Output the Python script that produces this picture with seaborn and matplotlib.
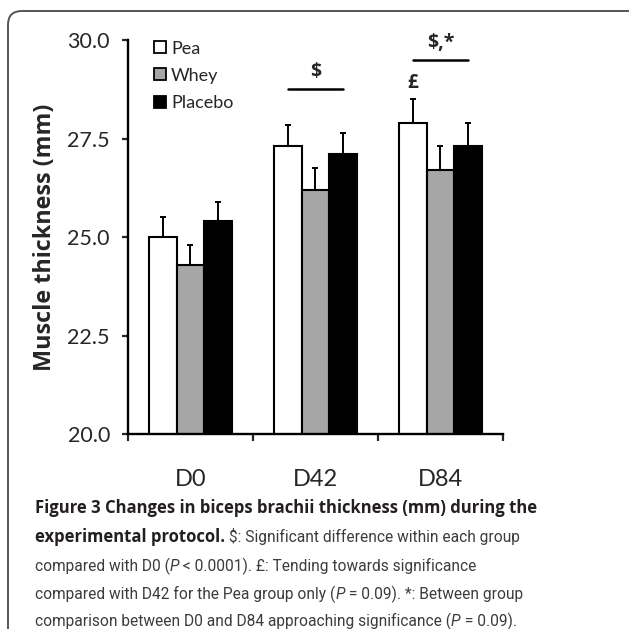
import numpy as np
import pandas as pd
import matplotlib
matplotlib.use("Agg")
import matplotlib.pyplot as plt
import seaborn as sns
from matplotlib.patches import FancyBboxPatch, Patch

days = ['D0', 'D42', 'D84']
groups = ['Pea', 'Whey', 'Placebo']
pea_mean = [25.0, 27.3, 27.9]
pea_sem = [0.5, 0.55, 0.6]
whey_mean = [24.3, 26.2, 26.7]
whey_sem = [0.5, 0.55, 0.6]
placebo_mean = [25.4, 27.1, 27.3]
placebo_sem = [0.5, 0.55, 0.6]
y_ticks = [20.0, 22.5, 25.0, 27.5, 30.0]

colors = {'Pea': 'white', 'Whey': '#a6a6a6', 'Placebo': 'black'}

df = pd.DataFrame({
    'Day': days * 3,
    'Group': ['Pea'] * 3 + ['Whey'] * 3 + ['Placebo'] * 3,
    'Thickness': pea_mean + whey_mean + placebo_mean,
    'SEM': pea_sem + whey_sem + placebo_sem,
})

sns.set_theme(style='white')
plt.rcParams['font.family'] = ['Lato', 'DejaVu Sans']
bold_font = ['Open Sans', 'DejaVu Sans']
body_font = ['Roboto', 'DejaVu Sans']

fig = plt.figure(figsize=(6.29, 6.29), dpi=100)
ax = fig.add_axes([0.2035, 0.31, 0.596, 0.6264])

sns.barplot(data=df, x='Day', y='Thickness', hue='Group', order=days, hue_order=groups,
            palette=colors, width=0.66, edgecolor='black', linewidth=1.5,
            errorbar=None, legend=False, ax=ax)

# one-sided error bars on top of each bar
for grp, cont in zip(groups, ax.containers):
    sub = df[df['Group'] == grp].set_index('Day').loc[days]
    xs = [b.get_x() + b.get_width() / 2 for b in cont]
    ax.errorbar(xs, sub['Thickness'], yerr=[np.zeros(len(xs)), sub['SEM']],
                fmt='none', ecolor='black', elinewidth=1.4, capsize=2.5, capthick=1.4)

ax.set_ylim(20, 30)
ax.set_yticks(y_ticks)
ax.set_yticklabels([f'{v:.1f}' for v in y_ticks], fontsize=15.5)
ax.set_xlim(-0.5, 2.5)
ax.set_xticks(range(len(days)))
ax.set_xticklabels(days, fontsize=17)
ax.set_xticks(np.arange(-0.5, 3, 1), minor=True)
ax.tick_params(axis='x', which='major', length=0, pad=25)
ax.tick_params(axis='x', which='minor', length=5, width=1.6, direction='out', bottom=True)
ax.tick_params(axis='y', length=4, width=1.6, direction='out', left=True, pad=9)
ax.set_xlabel('')
ax.set_ylabel('Muscle thickness (mm)', fontsize=16.8, fontweight='bold', family=bold_font)
ax.yaxis.set_label_coords(-0.19, 0.5)
sns.despine(ax=ax)
for s in ['left', 'bottom']:
    ax.spines[s].set_linewidth(1.7)
    ax.spines[s].set_color('black')

# significance marks
ax.plot([0.78, 1.22], [28.76, 28.76], color='black', lw=1.8)
ax.text(1.0, 29.19, r'\$', ha='center', va='center', fontsize=14, fontweight='bold', family=bold_font)
ax.plot([1.78, 2.22], [29.49, 29.49], color='black', lw=1.8)
ax.text(2.0, 29.92, r'\$,*', ha='center', va='center', fontsize=14, fontweight='bold', family=bold_font)
pea_d84 = ax.containers[0][2]
ax.text(pea_d84.get_x() + pea_d84.get_width() / 2, 28.9, '£', ha='center', va='center',
        fontsize=13.5, fontweight='bold', family=bold_font)

handles = [Patch(facecolor=colors[g], edgecolor='black', linewidth=1.3, label=g) for g in groups]
ax.legend(handles=handles, loc='upper left', bbox_to_anchor=(0.05, 1.017), frameon=False,
          fontsize=13, handlelength=0.65, handleheight=0.65, handletextpad=0.3,
          labelspacing=0.62, borderaxespad=0)

# rounded frame around the figure
frame = FancyBboxPatch((8 / 629, -0.2), 1.3, 1.2 - 11 / 629, transform=fig.transFigure,
                       boxstyle='round,pad=0,rounding_size=0.022', facecolor='none',
                       edgecolor='#555555', linewidth=1.4)
fig.patches.append(frame)

# caption
caption = [
    [("Figure 3 Changes in biceps brachii thickness (mm) during the", 'bold', 'normal')],
    [("experimental protocol.", 'bold', 'normal'),
     (" $: Significant difference within each group", 'normal', 'normal')],
    [("compared with D0 (", 'normal', 'normal'), ("P", 'normal', 'italic'),
     (" < 0.0001). £: Tending towards significance", 'normal', 'normal')],
    [("compared with D42 for the Pea group only (", 'normal', 'normal'), ("P", 'normal', 'italic'),
     (" = 0.09). *: Between group", 'normal', 'normal')],
    [("comparison between D0 and D84 approaching significance (", 'normal', 'normal'),
     ("P", 'normal', 'italic'), (" = 0.09).", 'normal', 'normal')],
]
baselines = [513, 542, 571, 599, 626]
renderer = fig.canvas.get_renderer()
W = fig.get_figwidth() * fig.dpi
H = fig.get_figheight() * fig.dpi
for segs, yb in zip(caption, baselines):
    x = 35 / W
    for txt, weight, style in segs:
        bold = weight == 'bold'
        t = fig.text(x, 1 - yb / H, txt.replace('$', r'\$'),
                     fontsize=12 if bold else 11.2, fontweight=weight,
                     fontstyle=style, va='baseline', ha='left',
                     color='#231f20' if bold else '#3c3c3c',
                     family=bold_font if bold else body_font)
        bb = t.get_window_extent(renderer)
        x = bb.x1 / W

fig.savefig('out.png', dpi=100)
